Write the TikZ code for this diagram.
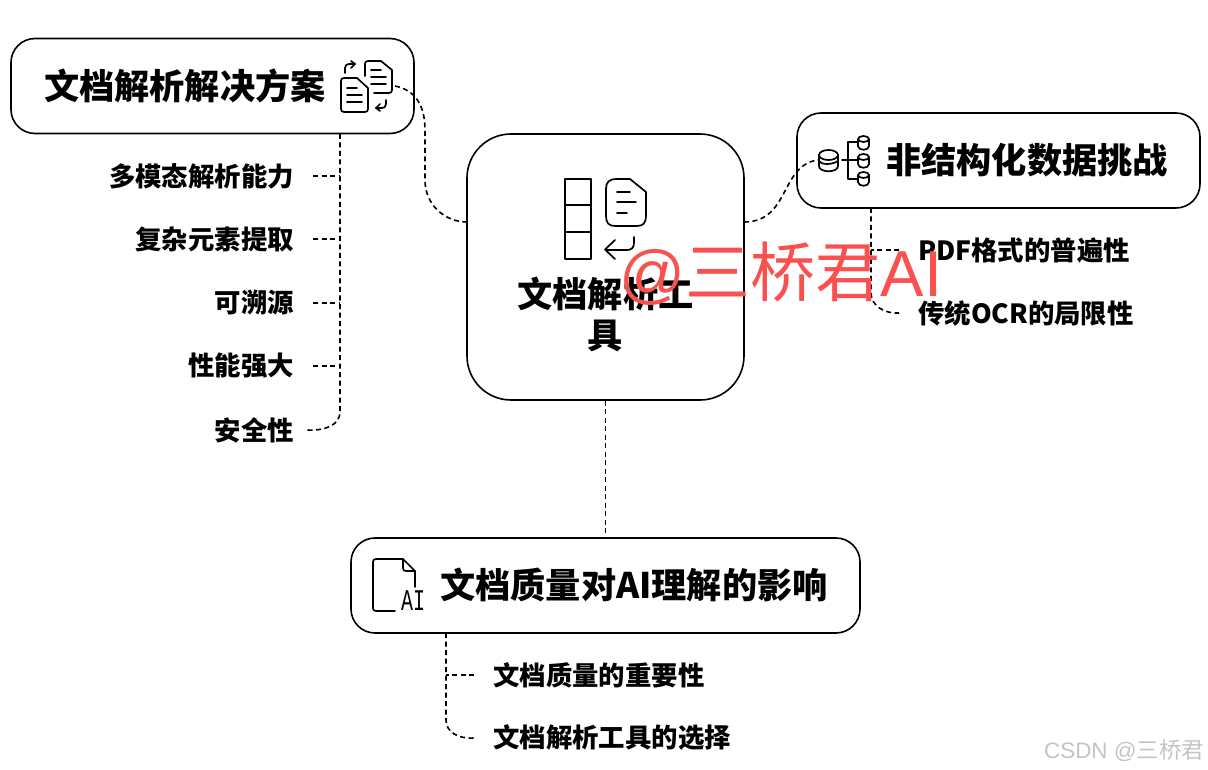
\documentclass[tikz,border=0pt]{standalone}
\usepackage{fontspec}
\setmainfont{Noto Sans CJK SC}
\newfontfamily\wmfont{Liberation Sans}
\setmonofont{Liberation Mono}
\usepackage{graphicx}
\usepackage{xcolor}
\definecolor{wmred}{HTML}{F95050}
\definecolor{csdngray}{HTML}{C4C4C4}
\tikzset{
  topicbox/.style = {draw, line width=1.6pt, rounded corners=24pt, minimum width=403pt, minimum height=95pt, inner sep=0pt},
  topictext/.style = {font=\bfseries\fontsize{35.2}{41}\selectfont, align=center, inner sep=0pt},
  itemtext/.style = {font=\bfseries\fontsize{26.4}{30}\selectfont, inner ysep=0pt, inner xsep=19pt},
  conn/.style = {line width=1.6pt, dash pattern=on 5pt off 3.5pt},
  iconline/.style = {line width=1.7pt, line join=round, line cap=round}
}
\begin{document}
\begin{tikzpicture}[x=1pt, y=-1pt]
\useasboundingbox (0,0) rectangle (1208,770);

\node[topicbox, minimum width=277pt, minimum height=266pt, rounded corners=44pt] (toolbox) at (605.5,267) {};
\node[topicbox] (solutionbox) at (212.5,86) {};
\node[topicbox] (challengebox) at (998.5,160.5) {};
\node[topicbox, minimum width=509pt] (qualitybox) at (605.5,585.5) {};

\node[topictext] (tooltext) at (605.5,314) {文档解析工\\具};
\node[topictext] (solutiontext) at (185,86) {文档解析解决方案};
\node[topictext] (challengetext) at (1027,160) {非结构化数据挑战};
\node[topictext] (qualitytext) at (634,585) {文档质量对AI理解的影响};

\coordinate (toolleft) at (467,222);
\coordinate (toolright) at (744,222);
\coordinate (solutionicon) at (395,86);
\coordinate (challengeicon) at (818,160);
\coordinate (solutiontrunk) at (340,134);
\coordinate (challengetrunk) at (871,208);
\coordinate (qualitytrunk) at (446,633);
\coordinate (qualitytop) at (605.5,533);

\draw[conn] (solutionicon) .. controls (415,90) and (425,105) .. (425,130) -- (425,180) .. controls (425,205) and (445,222) .. (toolleft);
\draw[conn] (toolright) .. controls (790,222) and (780,165) .. (challengeicon);
\draw[conn] (toolbox.south) -- (qualitytop);

\foreach \name/\txt/\y in {a/多模态解析能力/177, b/复杂元素提取/240, c/可溯源/304, d/性能强大/367}{
  \node[itemtext, anchor=east] (item\name) at (313,\y-1) {\txt};
  \draw[conn] (item\name.east) -- (item\name.east -| solutiontrunk);
}
\node[itemtext, anchor=east] (iteme) at (313,430) {安全性};
\draw[conn] (solutiontrunk) -- (340,412) .. controls (340,425) and (325,431) .. (iteme.east -| 307,0);

\node[itemtext, anchor=west] (itemf) at (899,250) {PDF格式的普遍性};
\node[itemtext, anchor=west] (itemg) at (899,313) {传统OCR的局限性};
\draw[conn] (itemf.west) -- (itemf.west -| challengetrunk);
\draw[conn] (challengetrunk) -- (871,293) .. controls (871,306) and (885,314) .. (itemg.west);

\node[itemtext, anchor=west] (itemh) at (474,675) {文档质量的重要性};
\node[itemtext, anchor=west] (itemi) at (474,738) {文档解析工具的选择};
\draw[conn] (itemh.west) -- (itemh.west -| qualitytrunk);
\draw[conn] (qualitytrunk) -- (446,720) .. controls (446,732) and (458,739) .. (itemi.west);

\draw[iconline] (565,179) rectangle (591,259);
\draw[iconline] (565,205) -- (591,205);
\draw[iconline] (565,232) -- (591,232);
\draw[iconline] (617,179) -- (630,179) -- (646,192) -- (646,216) .. controls (646,223) and (643,226) .. (637,226) -- (615,226) .. controls (609,226) and (606,223) .. (606,216) -- (606,189) .. controls (606,182) and (609,179) .. (617,179);
\draw[iconline] (617,192) -- (630,192);
\draw[iconline] (617,202) -- (636,202);
\draw[iconline] (617,213) -- (627,213);
\draw[iconline] (634,237) -- (634,243) .. controls (634,248) and (631,250) .. (627,250) -- (606,250);
\draw[iconline] (615,240) -- (605,249.5) -- (615,259);

\draw[iconline] (365,76) -- (365,64) .. controls (365,62) and (366,61) .. (368,61) -- (381,61) -- (392,70) -- (392,90) .. controls (392,92) and (391,93) .. (389,93) -- (374,93);
\draw[iconline] (371,70) -- (381,70);
\draw[iconline] (371,77) -- (386,77);
\draw[iconline] (371,84) -- (386,84);
\draw[iconline] (341,81) .. controls (341,79) and (342,78) .. (344,78) -- (357,78) -- (368,88) -- (368,109) .. controls (368,111) and (367,112) .. (365,112) -- (344,112) .. controls (342,112) and (341,111) .. (341,109) -- cycle;
\draw[iconline] (347,88) -- (357,88);
\draw[iconline] (347,95) -- (362,95);
\draw[iconline] (347,102) -- (362,102);
\draw[iconline] (345,73) -- (345,68) .. controls (345,65) and (347,64) .. (349,64) -- (355,64);
\draw[iconline] (351,61) -- (355,64) -- (351,68);
\draw[iconline] (386,100) -- (386,104) .. controls (386,107) and (384,108) .. (382,108) -- (376,108);
\draw[iconline] (380,104) -- (376,108) -- (380,111);

\draw[iconline] (828.5,155) ellipse (9.5 and 5);
\draw[iconline] (819,155) -- (819,166) .. controls (819,173) and (838,173) .. (838,166) -- (838,155);
\draw[iconline] (819,161) .. controls (821,165) and (832,165) .. (838,161);
\foreach \y in {136,154,172}{
  \draw[iconline] (863.5,\y+3) ellipse (5.5 and 3);
  \draw[iconline] (858,\y+3) -- (858,\y+10) .. controls (858,\y+15) and (869,\y+15) .. (869,\y+10) -- (869,\y+3);
}
\draw[iconline] (858,142) -- (848,142) -- (848,179) -- (858,179);
\draw[iconline] (842,160) -- (858,160);

\draw[iconline] (395,611) -- (376,611) .. controls (374,611) and (373,610) .. (373,608) -- (373,562) .. controls (373,560) and (374,559) .. (376,559) -- (403,559) -- (415,571) -- (415,587);
\draw[iconline] (403,559) -- (403,568) .. controls (403,570) and (404,571) .. (406,571) -- (415,571);
\node[font=\ttfamily\fontsize{20}{20}\selectfont, inner sep=0pt] (aitext) at (413,601) {\scalebox{1}[1.5]{AI}};

\node[text=wmred, font=\wmfont\fontsize{65}{65}\selectfont, inner sep=0pt] (watermark) at (781,274) {@{\rmfamily 三桥君}AI};
\node[text=csdngray, font=\wmfont\fontsize{22.4}{22.4}\selectfont, inner sep=0pt, anchor=east] (csdnmark) at (1204,751) {CSDN @{\rmfamily 三桥君}};
\end{tikzpicture}
\end{document}
